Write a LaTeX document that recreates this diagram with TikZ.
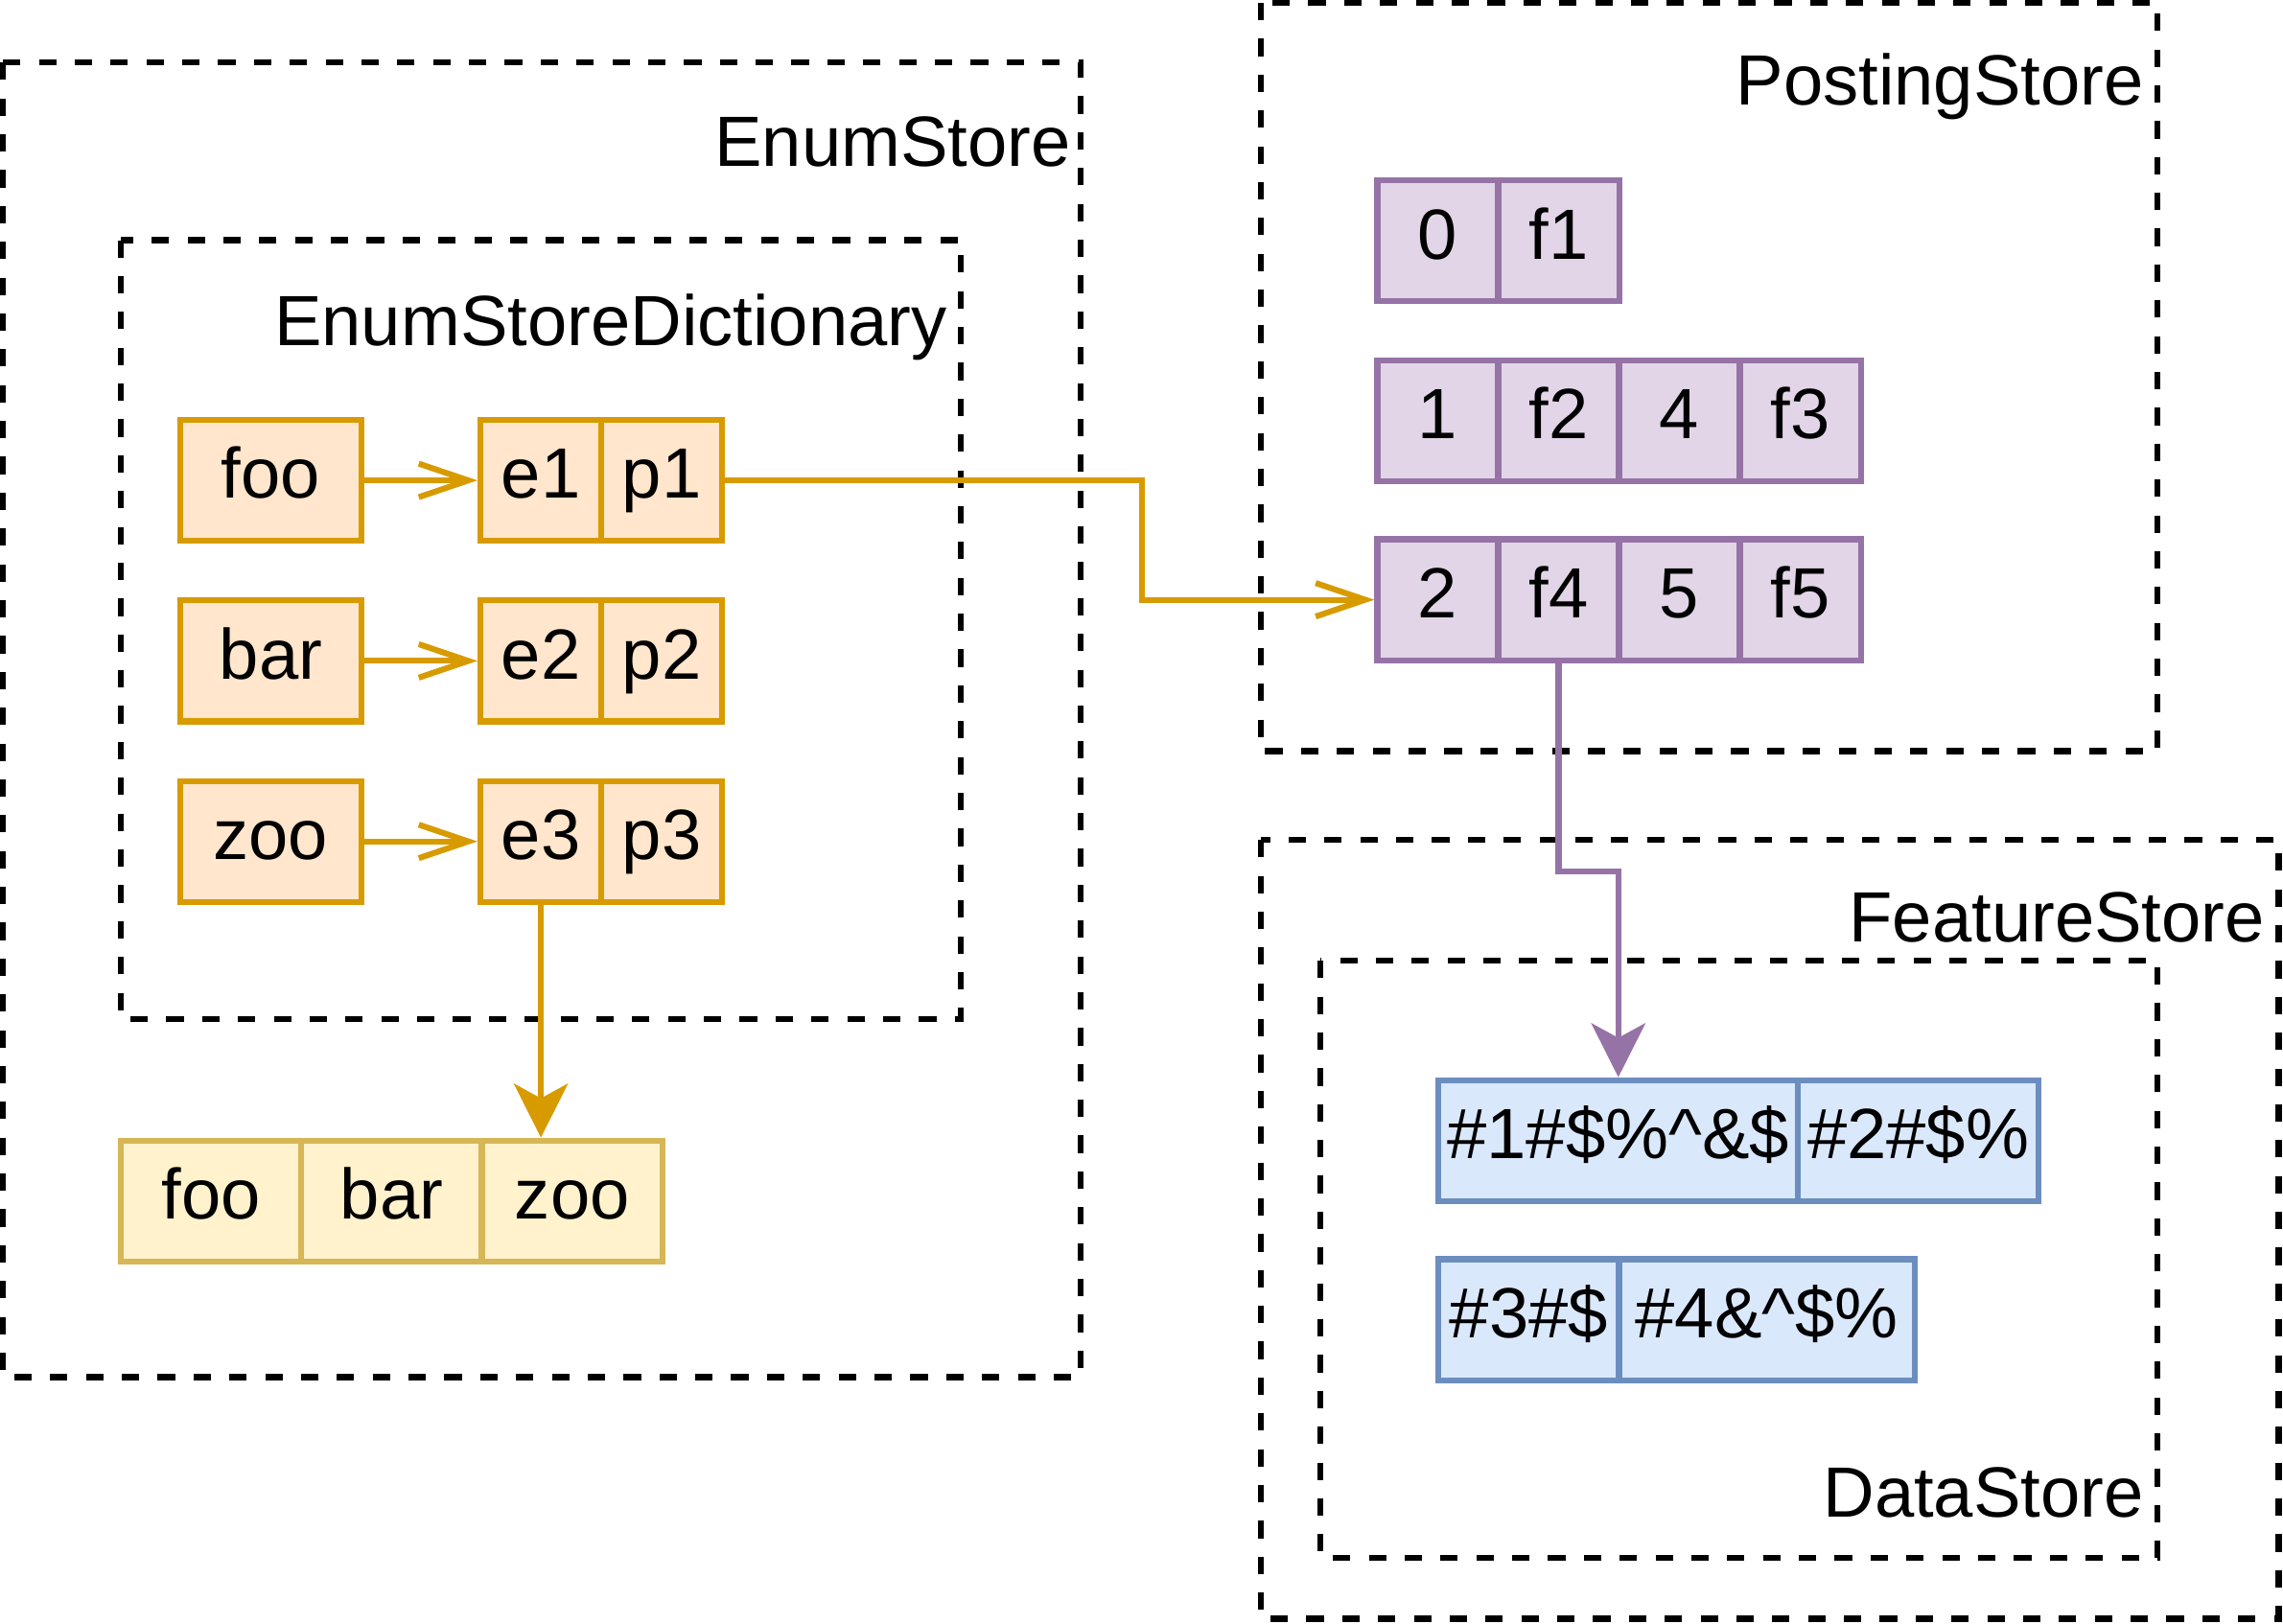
\documentclass[tikz,border=0pt]{standalone}
\usepackage{fontspec}
\setmainfont{Liberation Sans}
\usepackage{tikz}
\usetikzlibrary{arrows.meta}
\definecolor{enumfill}{HTML}{FFE6CC}
\definecolor{enumline}{HTML}{D79B00}
\definecolor{dictfill}{HTML}{FFF2CC}
\definecolor{dictline}{HTML}{D6B656}
\definecolor{postfill}{HTML}{E1D5E7}
\definecolor{postline}{HTML}{9673A6}
\definecolor{datafill}{HTML}{DAE8FC}
\definecolor{dataline}{HTML}{6C8EBF}

\begin{document}
\begin{tikzpicture}[x=0.01cm,y=-0.01cm]
\tikzstyle{store}=[draw=black,line width=1.15pt,dash pattern=on 3.4pt off 3.6pt]
\tikzstyle{title}=[anchor=east,inner sep=0pt,text height=0.9em,text depth=0.2em,font=\fontsize{13.9}{16}\selectfont]
\tikzstyle{cell}=[rectangle,line width=1.15pt,minimum height=0.83cm,minimum width=0.83cm,inner sep=0pt,text height=0.9em,text depth=0.2em,font=\fontsize{13.9}{16}\selectfont]
\tikzstyle{enum}=[cell,draw=enumline,fill=enumfill]
\tikzstyle{dict}=[cell,draw=dictline,fill=dictfill]
\tikzstyle{post}=[cell,draw=postline,fill=postfill]
\tikzstyle{data}=[cell,draw=dataline,fill=datafill]
\tikzstyle{open}=[line width=1.15pt,-{Straight Barb[length=0.34cm,width=0.23cm]}]
\tikzstyle{solid}=[line width=1.15pt,-{Stealth[length=0.37cm,width=0.37cm,inset=0.1cm]}]
\useasboundingbox (0,0) rectangle (1568,1115);
% stores
\draw[store] (2,43) rectangle (742,946);
\draw[store] (83,165) rectangle (660,700);
\draw[store] (866,2) rectangle (1482,516);
\draw[store] (866,577) rectangle (1565,1112);
\draw[store] (907,660) rectangle (1482,1070);
\node[title] (enumstore) at (736,102) {EnumStore};
\node[title] (enumdict) at (651,225) {EnumStoreDictionary};
\node[title] (poststore) at (1473,60) {PostingStore};
\node[title] (featstore) at (1556,635) {FeatureStore};
\node[title] (datastore) at (1473,1030) {DataStore};
% dictionary
\node[enum,minimum width=1.24cm] (foo) at (186,330) {foo};
\node[enum] (e1) at (371.5,330) {e1};
\node[enum] (p1) at (454.5,330) {p1};
\node[enum,minimum width=1.24cm] (bar) at (186,454) {bar};
\node[enum] (e2) at (371.5,454) {e2};
\node[enum] (p2) at (454.5,454) {p2};
\node[enum,minimum width=1.24cm] (zoo) at (186,578) {zoo};
\node[enum] (e3) at (371.5,578) {e3};
\node[enum] (p3) at (454.5,578) {p3};
\node[dict,minimum width=1.24cm] (d1) at (145,825) {foo};
\node[dict,minimum width=1.24cm] (d2) at (269,825) {bar};
\node[dict,minimum width=1.24cm] (d3) at (393,825) {zoo};
% postings
\node[post] (0) at (987.5,165.5) {0};
\node[post] (f1) at (1070.5,165.5) {f1};
\node[post] (1) at (987.5,289) {1};
\node[post] (f2) at (1070.5,289) {f2};
\node[post] (4) at (1153.5,289) {4};
\node[post] (f3) at (1236.5,289) {f3};
\node[post] (2) at (987.5,412) {2};
\node[post] (f4) at (1070.5,412) {f4};
\node[post] (5) at (1153.5,412) {5};
\node[post] (f5) at (1236.5,412) {f5};
% features
\node[data,minimum width=2.47cm] (b1) at (1111.5,783.5) {\#1\#\$\%\textasciicircum\&\$};
\node[data,minimum width=1.65cm] (b2) at (1317.5,783.5) {\#2\#\$\%};
\node[data,minimum width=1.24cm] (b3) at (1050,906.5) {\#3\#\$};
\node[data,minimum width=2.03cm] (b4) at (1213.5,906.5) {\#4\&\textasciicircum\$\%};
% links
\draw[enumline,open] (foo) -- (e1);
\draw[enumline,open] (bar) -- (e2);
\draw[enumline,open] (zoo) -- (e3);
\draw[enumline,open] (p1.east) -- ++(286,0) |- (2.west);
\draw[enumline,solid] (e3.south) -- (e3.south |- d3.north);
\draw[postline,solid] (f4.south) -- ++(0,143) -| (b1.north);
\end{tikzpicture}
\end{document}
